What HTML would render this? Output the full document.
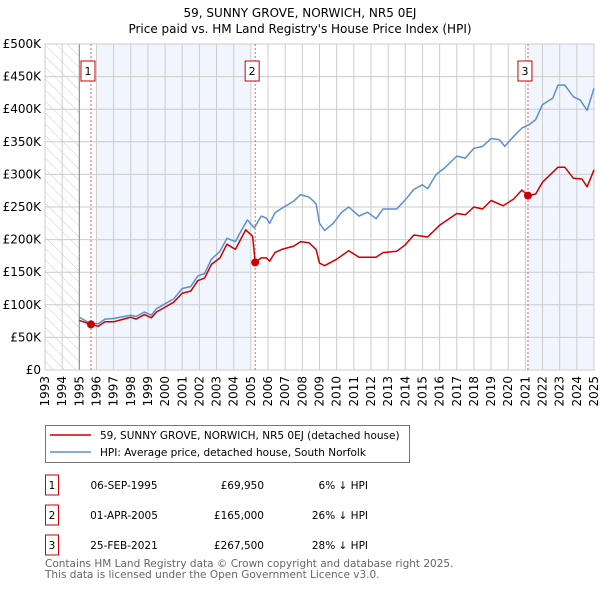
<!DOCTYPE html>
<html><head><meta charset="utf-8"><style>
body{margin:0;background:#fff;font-family:"DejaVu Sans","Liberation Sans",sans-serif;}
svg text{font-family:"DejaVu Sans","Liberation Sans",sans-serif;}
</style></head><body>
<svg id="c" width="600" height="590" viewBox="0 0 600 590" xmlns="http://www.w3.org/2000/svg">
<defs><pattern id="hatch" width="8" height="8" patternUnits="userSpaceOnUse" patternTransform="rotate(-45)"><line x1="0" y1="0" x2="0" y2="8" stroke="#ccc" stroke-width="1"/></pattern></defs>
<text x="300" y="17" text-anchor="middle" font-size="12">59, SUNNY GROVE, NORWICH, NR5 0EJ</text>
<text x="300" y="33" text-anchor="middle" font-size="12">Price paid vs. HM Land Registry's House Price Index (HPI)</text>
<g id="plot"></g>
<g>
<rect x="45.5" y="425.5" width="364" height="37" fill="#fff" stroke="#777" stroke-width="1"/>
<line x1="50" y1="435" x2="91" y2="435" stroke="#cc0000" stroke-width="1.5"/>
<text x="100" y="439" font-size="10.5">59, SUNNY GROVE, NORWICH, NR5 0EJ (detached house)</text>
<line x1="50" y1="452" x2="91" y2="452" stroke="#5b8fd0" stroke-width="1.5"/>
<text x="100" y="456" font-size="10.5">HPI: Average price, detached house, South Norfolk</text>
</g>
<g id="table" font-size="10.5"></g>
<text x="45" y="567" font-size="10.5" fill="#666">Contains HM Land Registry data © Crown copyright and database right 2025.</text>
<text x="45" y="578" font-size="10.5" fill="#666">This data is licensed under the Open Government Licence v3.0.</text>
</svg>
<script>
const hpiYears=[1995,1995.6,1996.1,1996.5,1997,1998,1998.3,1998.8,1999.2,1999.5,2000.1,2000.5,2001,2001.5,2001.9,2002.3,2002.7,2003.2,2003.6,2004.1,2004.4,2004.8,2005.2,2005.6,2005.9,2006.1,2006.4,2006.8,2007.5,2007.9,2008.4,2008.8,2009.0,2009.3,2009.8,2010.3,2010.7,2011.3,2011.8,2012.3,2012.7,2013.5,2014,2014.5,2015,2015.3,2015.8,2016.3,2017,2017.5,2018,2018.5,2019,2019.5,2019.8,2020.3,2020.8,2021.2,2021.6,2022,2022.6,2022.9,2023.3,2023.8,2024.2,2024.6,2025];
const hpiValues=[81,72,71,78,79,84,82,89,84,94,103,109,125,128,144,148,170,182,202,197,212,230,218,236,233,225,241,248,259,269,265,255,225,214,225,242,250,236,242,232,247,247,261,277,284,278,300,310,328,325,340,343,355,353,343,358,371,376,384,407,417,437,437,419,414,398,432];
const ppYears=[1995,1995.68,1996.1,1996.5,1997,1998,1998.3,1998.8,1999.2,1999.5,2000.1,2000.5,2001,2001.5,2001.9,2002.3,2002.7,2003.2,2003.6,2004.1,2004.7,2005.1,2005.25,2005.6,2005.9,2006.1,2006.4,2006.8,2007.5,2007.9,2008.4,2008.8,2009,2009.3,2010,2010.7,2011.3,2012.3,2012.7,2013.5,2014,2014.5,2015.3,2016,2017,2017.5,2018,2018.5,2019,2019.7,2020.3,2020.8,2021.15,2021.6,2022,2022.9,2023.3,2023.8,2024.3,2024.6,2025];
const ppValues=[76,70,67,74,74,81,78,85,80,89,98,104,118,121,137,141,162,172,193,185,215,205,165,172,172,167,180,185,190,197,195,185,164,160,170,183,173,173,180,182,192,207,204,222,240,238,250,247,260,252,262,276,267.5,270,288,311,311,294,293,281,307];
const saleYears=[1995.68,2005.25,2021.15];
const saleValues=[69.95,165,267.5];
const yTicks=[0,50,100,150,200,250,300,350,400,450,500];
const yTickLabels=["£0","£50K","£100K","£150K","£200K","£250K","£300K","£350K","£400K","£450K","£500K"];
const xTicks=[1993,1994,1995,1996,1997,1998,1999,2000,2001,2002,2003,2004,2005,2006,2007,2008,2009,2010,2011,2012,2013,2014,2015,2016,2017,2018,2019,2020,2021,2022,2023,2024,2025];
const tableDates=["06-SEP-1995","01-APR-2005","25-FEB-2021"];
const tablePrices=["£69,950","£165,000","£267,500"];
const tableHpi=["6% ↓ HPI","26% ↓ HPI","28% ↓ HPI"];
const L=45,R=594,T=44,B=370;
const X=y=>L+(y-1993)/32*(R-L);
const Y=v=>B-v/500*(B-T);
const NS="http://www.w3.org/2000/svg";
const plot=document.getElementById('plot');
function mk(t,a,p){const e=document.createElementNS(NS,t);for(const k in a)e.setAttribute(k,a[k]);(p||plot).appendChild(e);return e;}
let e;
e=mk('rect',{x:L,y:T,width:R-L,height:B-T,fill:'#fff'});


e=mk('rect',{x:X(1993),y:T,width:X(1995)-X(1993),height:B-T,fill:'url(#hatch)'});


e=mk('rect',{x:X(1996),y:T,width:X(2005)-X(1996),height:B-T,fill:'#eef3fc',opacity:0.8});


e=mk('rect',{x:X(2021.15),y:T,width:R-X(2021.15),height:B-T,fill:'#eef3fc',opacity:0.8});


yTicks.forEach((v,i)=>{
 e=mk('line',{x1:L,x2:R,y1:Y(v),y2:Y(v),stroke:'#ccc','stroke-width':1});
 
 
 e=mk('text',{x:L-4,y:Y(v)+4,'text-anchor':'end','font-size':12});
 e.textContent=yTickLabels[i];
 
 
});
xTicks.forEach(y=>{
 e=mk('line',{x1:X(y),x2:X(y),y1:T,y2:B,stroke:'#ccc','stroke-width':1});
 
 
 e=mk('text',{x:0,y:0,'font-size':12,'text-anchor':'end',transform:`translate(${X(y)+4},${B+6}) rotate(-90)`});
 e.textContent=y;
 
 
});
e=mk('line',{x1:X(1995),x2:X(1995),y1:T,y2:B,stroke:'#888'});


e=mk('rect',{x:L,y:T,width:R-L,height:B-T,fill:'none',stroke:'#ccc'});


saleYears.forEach((y,i)=>{
 e=mk('line',{x1:X(y),x2:X(y),y1:T,y2:B,stroke:'#e06060','stroke-dasharray':'2,2','stroke-width':1});
 
 
 const g=mk('g',{});
 
 
 mk('rect',{x:X(y)-10,y:61,width:14,height:20,fill:'#fff',stroke:'#cc0000'},g);
 const t=mk('text',{x:X(y)-3,y:75,'text-anchor':'middle','font-size':11},g);t.textContent=i+1;
});
function line(xs,vs,c,name){
 e=mk('path',{d:xs.map((y,i)=>(i?'L':'M')+X(y).toFixed(1)+','+Y(vs[i]).toFixed(1)).join(''),fill:'none',stroke:c,'stroke-width':1.5,'stroke-linejoin':'round'});
 
 
}
line(hpiYears,hpiValues,'#5b8fd0','hpi-line');
line(ppYears,ppValues,'#cc0000','price-paid-line');
saleYears.forEach((y,i)=>{
 e=mk('circle',{cx:X(y),cy:Y(saleValues[i]),r:4,fill:'#cc0000'});
 
 
});
const tb=document.getElementById('table');
tableDates.forEach((d,i)=>{
 const y=485+i*30;
 const g=mk('g',{},tb);
 
 
 mk('rect',{x:45.5,y:y-10,width:13,height:20,fill:'#fff',stroke:'#cc0000'},g);
 let t=mk('text',{x:52,y:y+4,'text-anchor':'middle'},g);t.textContent=i+1;
 t=mk('text',{x:124,y:y+4,'text-anchor':'middle'},g);t.textContent=d;
 t=mk('text',{x:264,y:y+4,'text-anchor':'end'},g);t.textContent=tablePrices[i];
 t=mk('text',{x:368,y:y+4,'text-anchor':'end'},g);t.textContent=tableHpi[i];
});
</script>
</body></html>
